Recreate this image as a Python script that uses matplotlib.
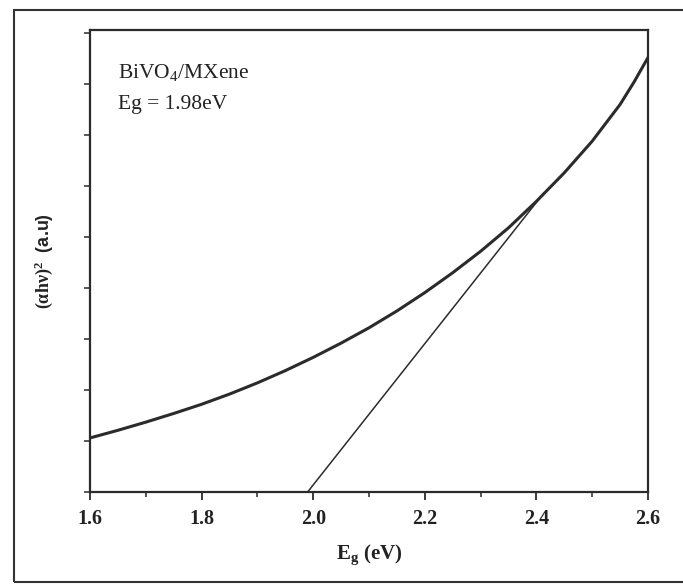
import matplotlib
matplotlib.use("Agg")
import matplotlib.pyplot as plt
from matplotlib.patches import Rectangle
from matplotlib.ticker import MultipleLocator

plt.rcParams['font.family'] = ['Liberation Serif', 'DejaVu Serif']
plt.rcParams['mathtext.fontset'] = 'custom'
plt.rcParams['mathtext.rm'] = 'Liberation Serif'
plt.rcParams['mathtext.bf'] = 'Liberation Serif:bold'
plt.rcParams['mathtext.it'] = 'Liberation Serif:italic'

# Tauc plot data (arbitrary units)
energy = [1.60, 1.65, 1.70, 1.75, 1.80, 1.85, 1.90, 1.95, 2.00, 2.05, 2.10,
          2.15, 2.20, 2.25, 2.30, 2.35, 2.40, 2.45, 2.50, 2.55, 2.575, 2.60]
absorb = [1.06, 1.21, 1.37, 1.54, 1.72, 1.92, 2.14, 2.38, 2.64, 2.92, 3.22,
          3.55, 3.91, 4.30, 4.72, 5.18, 5.70, 6.26, 6.88, 7.60, 8.04, 8.52]

# linear fit extrapolated down to the energy axis
fit_x = [1.99, 2.413]
fit_y = [0.0, 5.86]

line_col = '#2b2b2b'
text_col = '#222222'

fig = plt.figure(figsize=(6.83, 5.87), dpi=100)
ax = fig.add_axes([90 / 683, 95 / 587, 558 / 683, 462 / 587])

ax.plot(energy, absorb, color=line_col, lw=2.2, solid_joinstyle='round')
ax.plot(fit_x, fit_y, color=line_col, lw=1.1)

ax.set_xlim(1.6, 2.6)
ax.set_ylim(0, 9.06)
ax.xaxis.set_minor_locator(MultipleLocator(0.1))
ax.yaxis.set_major_locator(MultipleLocator(1))
ax.set_xticks([1.6, 1.8, 2.0, 2.2, 2.4, 2.6])
ax.set_xticklabels(['1.6', '1.8', '2.0', '2.2', '2.4', '2.6'],
                   fontsize=14.5, fontweight='bold', color=text_col)
ax.set_yticklabels([])
ax.tick_params(axis='x', which='major', direction='out', length=6, width=1.3,
               colors=line_col, labelcolor=text_col, pad=6)
ax.tick_params(axis='x', which='minor', direction='out', length=3.5, width=1.1,
               colors=line_col)
ax.tick_params(axis='y', which='major', direction='out', length=4, width=1.1,
               colors=line_col)
for s in ax.spines.values():
    s.set_linewidth(1.6)
    s.set_color(line_col)

ax.set_xlabel(r'$\mathbf{E_g}$' + ' (eV)', fontsize=15, fontweight='bold',
              color=text_col, labelpad=10)
ax.set_ylabel(r'$\mathbf{(\alpha h\nu)^2}$' + '  (a.u)', fontsize=13,
              fontweight='bold', color=text_col, labelpad=18,
              family=['Liberation Sans', 'DejaVu Sans'])

ax.text(0.05, 0.909, r'BiVO$_4$/MXene', transform=ax.transAxes, fontsize=15.5,
        color=text_col, va='center', ha='left')
ax.text(0.05, 0.838, 'Eg = 1.98eV', transform=ax.transAxes, fontsize=15.5,
        color=text_col, va='center', ha='left')

# outer frame of the scanned figure
fig.patches.append(Rectangle((14 / 683, 5 / 587), 680 / 683, 572 / 587,
                             transform=fig.transFigure, fill=False,
                             edgecolor='#333333', lw=1.5))

fig.savefig('out.png', dpi=100)
